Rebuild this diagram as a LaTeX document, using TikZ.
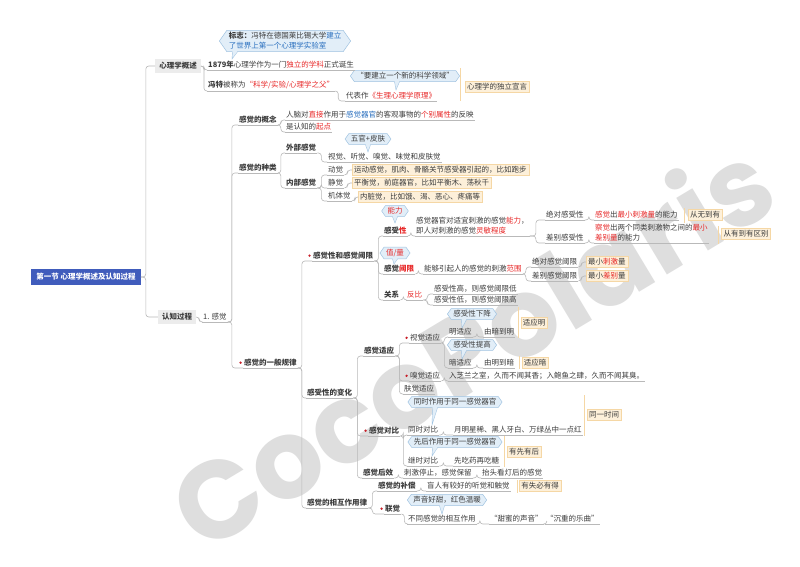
\documentclass[tikz,border=0pt]{standalone}
\usepackage{fontspec}
\setmainfont{Noto Sans CJK SC}
\newfontfamily\wmfont{Poppins}
\usetikzlibrary{shapes.symbols}

\definecolor{rootblue}{RGB}{64,92,188}
\definecolor{boxgray}{RGB}{236,236,236}
\definecolor{linegray}{RGB}{185,185,185}
\definecolor{txtgray}{RGB}{60,60,60}
\definecolor{hired}{RGB}{232,40,40}
\definecolor{hiblue}{RGB}{40,110,190}
\definecolor{tipfill}{RGB}{226,238,248}
\definecolor{tipline}{RGB}{160,195,225}
\definecolor{notefill}{RGB}{253,240,218}
\definecolor{noteline}{RGB}{245,215,165}
\definecolor{dotred}{RGB}{200,30,40}
\definecolor{wmgray}{RGB}{222,222,222}

\newcommand{\hl}[1]{\textcolor{hired}{#1}}
\newcommand{\hb}[1]{\textcolor{hiblue}{#1}}
% branch from a parent point to a child point
\newcommand{\link}[3][3]{\draw[branch] (#2) -- ++(#1,0) |- (#3);}
% callout pointer: tip node, shift of its base, target
\newcommand{\pointer}[3]{%
  \fill[tipfill] ([xshift=#2-2.5pt,yshift=1pt]#1.south) -- #3 -- ([xshift=#2+2.5pt,yshift=1pt]#1.south);
  \draw[tipline,line width=0.4pt] ([xshift=#2-2.5pt]#1.south) -- #3 -- ([xshift=#2+2.5pt]#1.south);}
\newcommand{\summary}[3]{\draw[noteline,line width=0.8pt] (#1,#2) -- (#1,#3);}

\begin{document}
\begin{tikzpicture}[x=1pt,y=-1pt,
  every node/.style={font=\fontsize{7.5}{10}\selectfont, text=txtgray},
  branch/.style={draw=linegray, line width=0.6pt, rounded corners=3pt},
  txt/.style={inner xsep=1pt, inner ysep=1.5pt, anchor=south west},
  hd/.style={txt, font=\fontsize{7.5}{10}\selectfont\bfseries},
  rootbox/.style={fill=rootblue, text=white, font=\fontsize{7.5}{10}\selectfont\bfseries, inner xsep=5pt, inner ysep=4.5pt},
  mainbox/.style={fill=boxgray, font=\fontsize{7.5}{10}\selectfont\bfseries, inner xsep=4pt, inner ysep=3.5pt},
  notebox/.style={fill=notefill, draw=noteline, line width=0.4pt, inner xsep=2pt, inner ysep=2pt},
  tipbox/.style={signal, signal to=east and west, signal pointer angle=110, fill=tipfill, draw=tipline, line width=0.5pt, inner xsep=2pt, inner ysep=2pt},
  reddot/.style={label={[fill=dotred, circle, inner sep=0.9pt, xshift=-1pt]left:{}}}]
\useasboundingbox (0,0) rectangle (800,566);
\fill[white] (0,0) rectangle (800,566);
\node[rotate=31, text=wmgray, font=\wmfont\bfseries\fontsize{110}{110}\selectfont] (wm) at (470,343) {CocoPolaris};

% root and main topics
\node[rootbox] (root) at (86,277) {第一节 心理学概述及认知过程};
\node[mainbox] (xlgs) at (178,66) {心理学概述};
\node[mainbox] (rzgc) at (177,317) {认知过程};

% psychology overview
\node[tipbox, align=left] (bz) at (285,41) {\textbf{标志：}冯特在德国莱比锡大学\hb{建立}\\\hb{了世界上第一个心理学实验室}};
\node[txt] (t1879) at (207,70) {\textbf{1879年}心理学作为一门\hl{独立的学科}正式诞生};
\node[txt] (feng) at (207,91) {\textbf{冯特}被称为\hl{“科学/实验/心理学之父”}};
\node[txt] (dbz) at (345,101) {代表作\hl{《生理心理学原理》}};
\node[tipbox] (yjl) at (405,76) {“要建立一个新的科学领域”};
\node[notebox] (dlxy) at (497,87) {心理学的独立宣言};
\pointer{bz}{-50pt}{(232,59)}
\pointer{yjl}{-8pt}{(396,90)}
\summary{460}{68}{101}

% sensation
\node[txt] (gj) at (202,322) {1. 感觉};
\node[hd] (gn) at (238,125) {感觉的概念};
\node[hd] (zl) at (238,173) {感觉的种类};
\node[hd, reddot] (gl) at (243,368) {感觉的一般规律};

\node[txt] (gn1) at (285,120) {人脑对\hl{直接}作用于\hb{感觉器官}的客观事物的\hl{个别属性}的反映};
\node[txt] (gn2) at (285,132) {是认知的\hl{起点}};

\node[hd] (wb) at (285,153) {外部感觉};
\node[hd] (nb) at (285,188) {内部感觉};
\node[tipbox] (wgpf) at (368,139) {五官+皮肤};
\node[txt] (wb1) at (327,162) {视觉、听觉、嗅觉、味觉和皮肤觉};
\pointer{wgpf}{0pt}{(368,152)}
\node[txt] (dj) at (327,175) {动觉};
\node[txt] (jj) at (327,188) {静觉};
\node[txt] (jtj) at (327,201) {机体觉};
\node[notebox, anchor=west] (dj1) at (352,170) {运动感觉，肌肉、骨骼关节感受器引起的，比如跑步};
\node[notebox, anchor=west] (jj1) at (352,183) {平衡觉，前庭器官，比如平衡木、荡秋千};
\node[notebox, anchor=west] (jtj1) at (358,197) {内脏觉，比如饿、渴、恶心、疼痛等};

% general laws
\node[hd, reddot] (gx) at (312,261) {感觉性和感觉阈限};
\node[hd] (bh) at (306,398) {感受性的变化};
\node[hd] (xh) at (306,508) {感觉的相互作用律};

\node[hd] (gsx) at (383,236) {感受\hl{性}};
\node[tipbox] (nl) at (395,211) {\hl{能力}};
\pointer{nl}{0pt}{(395,223)}
\node[txt, align=left] (gsx1) at (415,236) {感觉器官对适宜刺激的感觉\hl{能力}，\\即人对刺激的感觉\hl{灵敏程度}};
\node[txt] (jdgsx) at (545,220) {绝对感受性};
\node[txt] (cbgsx) at (545,243) {差别感受性};
\node[txt] (jdgsx1) at (594,220) {\hl{感觉}出\hl{最小刺激量}的能力};
\node[txt, align=left] (cbgsx1) at (594,243) {\hl{察觉}出两个同类刺激物之间的\hl{最小}\\\hl{差别量}的能力};
\node[notebox] (wdy) at (705,215) {从无到有};
\node[notebox] (ydy) at (746,234) {从有到有区别};
\summary{684}{208}{223}
\summary{718}{226}{244}

\node[hd] (gjyx) at (383,274) {感觉\hl{阈限}};
\node[tipbox] (zhl) at (395,253) {\hl{值/量}};
\pointer{zhl}{0pt}{(394,264)}
\node[txt] (gjyx1) at (423,274) {能够引起人的感觉的刺激\hl{范围}};
\node[txt] (jdyx) at (531,267) {绝对感觉阈限};
\node[txt] (cbyx) at (531,281) {差别感觉阈限};
\node[notebox, anchor=west] (jdyx1) at (586,262) {最小\hl{刺激}量};
\node[notebox, anchor=west] (cbyx1) at (586,276) {最小\hl{差别}量};

\node[hd] (gxi) at (383,300) {关系};
\node[txt] (fb) at (406,300) {\hl{反比}};
\node[txt] (gxi1) at (433,294) {感受性高，则感觉阈限低};
\node[txt] (gxi2) at (433,305) {感受性低，则感觉阈限高};

% change of sensitivity
\node[hd] (sy) at (363,356) {感觉适应};
\node[hd, reddot] (db) at (368,436) {感觉对比};
\node[hd] (hx) at (362,478) {感觉后效};

\node[txt, reddot] (sjsy) at (409,343) {视觉适应};
\node[txt, reddot] (xjsy) at (409,381) {嗅觉适应};
\node[txt] (fjsy) at (403,394) {肤觉适应};
\node[tipbox] (xj) at (472,314) {感受性下降};
\node[txt] (mingsy) at (448,337) {明适应};
\node[txt] (mingsy1) at (483,337) {由暗到明};
\node[tipbox] (tg) at (472,345) {感受性提高};
\node[txt] (ansy) at (448,368) {暗适应};
\node[txt] (ansy1) at (483,368) {由明到暗};
\pointer{xj}{-8pt}{(462,328)}
\pointer{tg}{-8pt}{(462,359)}
\node[notebox] (sym) at (534,323) {适应明};
\node[notebox] (sya) at (535,363) {适应暗};
\summary{518}{307}{338}
\summary{519}{356}{369}
\node[txt] (xjsy1) at (448,381) {入芝兰之室，久而不闻其香；入鲍鱼之肆，久而不闻其臭。};

\node[tipbox] (tszy) at (455,402) {同时作用于同一感觉器官};
\node[txt] (tsdb) at (407,435) {同时对比};
\node[txt] (tsdb1) at (453,435) {月明星稀、黑人牙白、万绿丛中一点红};
\pointer{tszy}{-20pt}{(432,425)}
\node[notebox] (tysj) at (604,415) {同一时间};
\summary{584}{395}{436}
\node[tipbox] (xhzy) at (455,442) {先后作用于同一感觉器官};
\node[txt] (jsdb) at (407,466) {继时对比};
\node[txt] (jsdb1) at (453,466) {先吃药再吃糖};
\pointer{xhzy}{-20pt}{(432,456)}
\node[notebox] (yxyh) at (524,452) {有先有后};
\summary{504}{436}{467}

\node[txt] (hx1) at (403,478) {刺激停止，感觉保留};
\node[txt] (hx2) at (481,478) {抬头看灯后的感觉};

% interaction
\node[hd] (bc) at (377,491) {感觉的补偿};
\node[txt] (bc1) at (426,491) {盲人有较好的听觉和触觉};
\node[notebox] (ysbd) at (540,486) {有失必有得};
\summary{517}{480}{493}
\node[hd, reddot] (lj) at (384,514) {联觉};
\node[tipbox] (syht) at (447,500) {声音好甜，红色温暖};
\node[txt] (lj1) at (407,524) {不同感觉的相互作用};
\node[txt] (lj2) at (489,524) {“甜蜜的声音”};
\node[txt] (lj3) at (545,524) {“沉重的乐曲”};
\pointer{syht}{-5pt}{(442,514)}

% underlines
\foreach \n in {t1879,feng,dbz,gj,gn,zl,gl,gn1,gn2,wb,nb,wb1,dj,jj,jtj,gx,bh,xh,
  gsx,gsx1,jdgsx,cbgsx,jdgsx1,cbgsx1,gjyx,gjyx1,jdyx,cbyx,gxi,fb,gxi1,gxi2,
  sy,db,hx,sjsy,xjsy,fjsy,mingsy,mingsy1,ansy,ansy1,xjsy1,tsdb,tsdb1,jsdb,jsdb1,
  hx1,hx2,bc,bc1,lj,lj1,lj2,lj3}
  \draw[branch] (\n.south west) -- (\n.south east);

% branches
\link[5]{root.east}{xlgs.west}
\link[5]{root.east}{rzgc.west}
\link{xlgs.east}{t1879.south west}
\link{xlgs.east}{feng.south west}
\link{feng.south east}{dbz.south west}
\link{rzgc.east}{gj.south west}
\foreach \c in {gn,zl,gl} {\link[4]{gj.south east}{\c.south west}}
\foreach \c in {gn1,gn2} {\link{gn.south east}{\c.south west}}
\foreach \c in {wb,nb} {\link{zl.south east}{\c.south west}}
\link[4]{wb.south east}{wb1.south west}
\foreach \c in {dj,jj,jtj} {\link[4]{nb.south east}{\c.south west}}
\link{dj.south east}{dj1.west}
\link{jj.south east}{jj1.west}
\link{jtj.south east}{jtj1.west}
\foreach \c in {gx,bh,xh} {\link[4]{gl.south east}{\c.south west}}
\foreach \c in {gsx,gjyx,gxi} {\link[4]{gx.south east}{\c.south west}}
\link{gsx.south east}{gsx1.south west}
\foreach \c in {jdgsx,cbgsx} {\link[6]{gsx1.south east}{\c.south west}}
\link[4]{jdgsx.south east}{jdgsx1.south west}
\link[4]{cbgsx.south east}{cbgsx1.south west}
\link{gjyx.south east}{gjyx1.south west}
\foreach \c in {jdyx,cbyx} {\link{gjyx1.south east}{\c.south west}}
\link{jdyx.south east}{jdyx1.west}
\link{cbyx.south east}{cbyx1.west}
\link{gxi.south east}{fb.south west}
\foreach \c in {gxi1,gxi2} {\link[4]{fb.south east}{\c.south west}}
\foreach \c in {sy,db,hx} {\link[4]{bh.south east}{\c.south west}}
\foreach \c in {sjsy,xjsy,fjsy} {\link[4]{sy.south east}{\c.south west}}
\foreach \c in {mingsy,ansy} {\link{sjsy.south east}{\c.south west}}
\link[4]{mingsy.south east}{mingsy1.south west}
\link[4]{ansy.south east}{ansy1.south west}
\link{xjsy.south east}{xjsy1.south west}
\foreach \c in {tsdb,jsdb} {\link{db.south east}{\c.south west}}
\link[4]{tsdb.south east}{tsdb1.south west}
\link[4]{jsdb.south east}{jsdb1.south west}
\link[4]{hx.south east}{hx1.south west}
\link[4]{hx1.south east}{hx2.south west}
\foreach \c in {bc,lj} {\link[4]{xh.south east}{\c.south west}}
\link[4]{bc.south east}{bc1.south west}
\link{lj.south east}{lj1.south west}
\link{lj1.south east}{lj2.south west}
\link{lj2.south east}{lj3.south west}
\end{tikzpicture}
\end{document}
